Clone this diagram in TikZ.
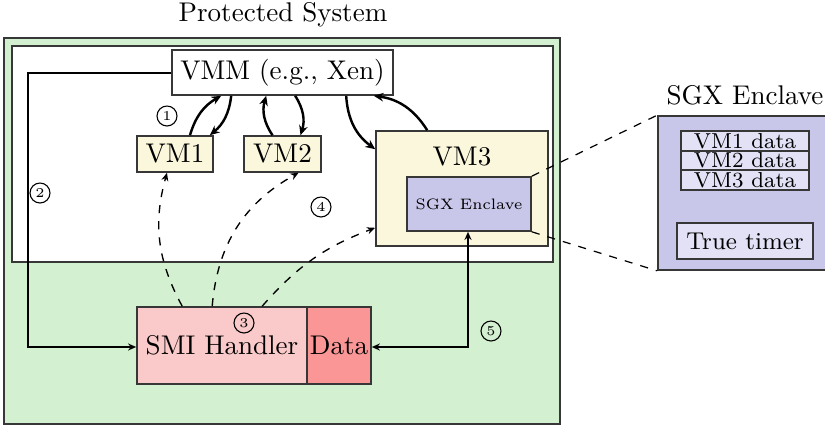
\documentclass[tikz,border=0pt]{standalone}
\usetikzlibrary{arrows.meta}

\definecolor{sysgreen}{RGB}{211,241,208}
\definecolor{vmyellow}{RGB}{250,247,220}
\definecolor{sgxpurple}{RGB}{201,199,233}
\definecolor{datapurple}{RGB}{226,225,245}
\definecolor{smipink}{RGB}{250,201,201}
\definecolor{datared}{RGB}{250,150,150}
\definecolor{edge}{RGB}{55,55,55}

\tikzset{
  region/.style 2 args={draw=edge, line width=0.6pt, inner sep=0pt,
    minimum width=#1*0.37pt, minimum height=#2*0.37pt},
  num/.style={circle, draw, line width=0.4pt, inner sep=0pt,
              minimum size=7.4pt, font=\tiny},
  flow/.style={-{Stealth[length=3.6pt,width=3.2pt]}, line width=0.9pt},
  smiflow/.style={dashed, line width=0.5pt, -{Stealth[length=3pt,width=2.6pt]}},
  link/.style={line width=0.5pt},
  zoomline/.style={dashed, line width=0.45pt},
}

\begin{document}
\begin{tikzpicture}[x=0.37pt, y=-0.37pt]
\useasboundingbox (0,0) rectangle (825,426);

% title of the whole system
\node (systitle) at (283,15) {Protected System};

% protected system and the virtualised part inside it
\node[region={556}{386}, fill=sysgreen] (system) at (282,231) {};
\node[region={541}{216}, fill=white] (virt) at (282.5,154) {};

% hypervisor and guests
\node[region={221}{45}, fill=white] (vmm) at (282.5,72.5) {VMM (e.g., Xen)};
\node[region={76}{36}, fill=vmyellow] (vm1) at (175,154) {VM1};
\node[region={77}{36}, fill=vmyellow] (vm2) at (282.5,154) {VM2};
\node[region={172}{115}, fill=vmyellow] (vm3) at (462,188.5) {};
\node (vm3label) at (462,157) {VM3};
\node[region={124}{54}, fill=sgxpurple,
      font=\fontsize{5.6}{7}\selectfont] (enc) at (469,204) {SGX Enclave};

% SMM side
\node[region={170}{77}, fill=smipink] (smi) at (222,345.5) {SMI Handler};
\node[region={64}{77}, fill=datared] (data) at (339,345.5) {Data};

% enlarged view of the enclave
\node[region={174}{154}, fill=sgxpurple] (big) at (745,193) {};
\node (bigtitle) at (745,95) {SGX Enclave};
\node[region={128}{20}, fill=datapurple, font=\footnotesize] (d1) at (745,141) {VM1 data};
\node[region={128}{19}, fill=datapurple, font=\footnotesize] (d2) at (745,160.5) {VM2 data};
\node[region={128}{20}, fill=datapurple, font=\footnotesize] (d3) at (745,180) {VM3 data};
\node[region={136}{36}, fill=datapurple, font=\small] (timer) at (745,241) {True timer};

% step markers
\node[num] (n1) at (167,116) {1};
\node[num] (n2) at (40,193) {2};
\node[num] (n3) at (244,323) {3};
\node[num] (n4) at (321,207) {4};
\node[num] (n5) at (491,331) {5};

% VM exits and entries
\draw[flow] ([xshift=15*0.37pt]vm1.north) to[bend left=22] ([xshift=50*0.37pt]vmm.south west);
\draw[flow] ([xshift=60*0.37pt]vmm.south west) to[bend left=22] ([xshift=-4*0.37pt]vm1.north east);
\draw[flow] ([xshift=-10*0.37pt]vm2.north) to[bend left=25] ([xshift=95*0.37pt]vmm.south west);
\draw[flow] ([xshift=124*0.37pt]vmm.south west) to[bend left=25] ([xshift=18*0.37pt]vm2.north);
\draw[flow] ([xshift=175*0.37pt]vmm.south west) to[bend right=25] ([yshift=-19*0.37pt]vm3.north west);
\draw[flow] ([xshift=52*0.37pt]vm3.north west) to[bend right=25] ([xshift=-20*0.37pt]vmm.south east);

% SMI triggered from the VMM
\coordinate (c2a) at (28,73);
\coordinate (c2b) at (28,347);
\draw[link, -{Stealth[length=3pt,width=2.6pt]}] (vmm.west |- c2a) -- (c2a) -- (c2b) -- (smi.west |- c2b);

% SMI handler inspecting the guests
\draw[smiflow] ([xshift=46*0.37pt]smi.north west) to[bend left=22] ([xshift=-8*0.37pt]vm1.south);
\draw[smiflow] ([xshift=76*0.37pt]smi.north west) to[bend left=28] ([xshift=16*0.37pt]vm2.south);
\draw[smiflow] ([xshift=126*0.37pt]smi.north west) to[bend left=14] ([yshift=19*0.37pt]vm3.south west);

% data exchange between SMM and the enclave
\coordinate (c5) at (468,347);
\draw[link, {Stealth[length=3pt,width=2.6pt]}-{Stealth[length=3pt,width=2.6pt]}]
  (data.east |- c5) -- (c5) -- (c5 |- enc.south);

% zoom lines to the enlarged enclave
\draw[zoomline] (enc.north east) -- (big.north west);
\draw[zoomline] (enc.south east) -- (big.south west);
\end{tikzpicture}
\end{document}
